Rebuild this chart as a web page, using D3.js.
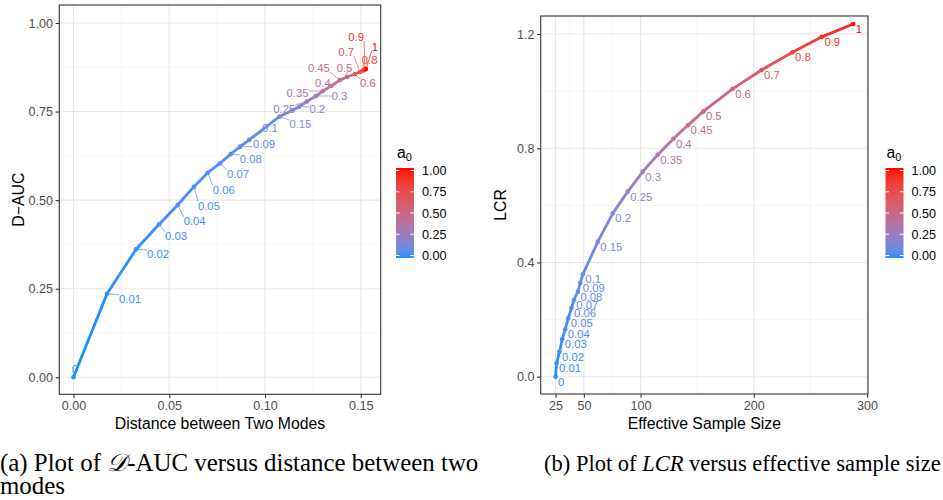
<!DOCTYPE html>
<html>
<head>
<meta charset="utf-8">
<script src="https://cdn.jsdelivr.net/npm/d3@7"></script>
<style>
  body { margin: 0; background: #fff; }
  svg { display: block; }
</style>
</head>
<body>
<svg id="chart" width="943" height="500"></svg>
<script>
// a0 values shared by both panels
const a0Values = [0, 0.01, 0.02, 0.03, 0.04, 0.05, 0.06, 0.07, 0.08, 0.09, 0.1,
  0.15, 0.2, 0.25, 0.3, 0.35, 0.4, 0.45, 0.5, 0.6, 0.7, 0.8, 0.9, 1];

// panel (a)
const distanceModes = [0, 0.0175, 0.0327, 0.0447, 0.0544, 0.0629, 0.0701, 0.0765, 0.0821, 0.0870, 0.0917,
  0.1075, 0.1178, 0.1219, 0.1266, 0.1302, 0.1345, 0.1391, 0.1428, 0.1470, 0.1496, 0.1512, 0.1522, 0.1527];
const dAuc = [0, 0.2355, 0.3613, 0.4318, 0.4863, 0.538, 0.5775, 0.604, 0.630, 0.651, 0.670,
  0.7355, 0.7637, 0.7784, 0.7939, 0.808, 0.8222, 0.839, 0.8475, 0.856, 0.8616, 0.8659, 0.8687, 0.8701];

// panel (b)
const sampleSize = [25, 25.9, 28.5, 30.9, 33.5, 36.2, 39.1, 41.1, 44.7, 46.8, 49.1,
  62.3, 75.5, 88.7, 102, 115.2, 129, 142, 155.5, 181.3, 206.8, 234.2, 260.1, 287.7];
const lcr = [0, 0.047, 0.0875, 0.132, 0.166, 0.2045, 0.2405, 0.2686, 0.2976, 0.329, 0.3585,
  0.4727, 0.572, 0.648, 0.718, 0.777, 0.833, 0.881, 0.929, 1.008, 1.074, 1.136, 1.19, 1.235];

const distTicks = [0, 0.05, 0.1, 0.15];
const aucTicks = [0, 0.25, 0.5, 0.75, 1];
const essTicks = [25, 50, 100, 200, 300];
const lcrTicks = [0, 0.4, 0.8, 1.2];
const legendTicks = [0, 0.25, 0.5, 0.75, 1];

// repel-style label nudges for panel (a), pixels from point (text start, middle)
const nudgesA = [[-1.8, -8], [12, 5], [11, 5], [6, 12], [6, 16], [4, 19], [5, 17], [7, 11], [9, 5], [13, -3], [13, -12],
  [10, 7.6], [10.3, 2.3], [-33.7, 7.5], [15.7, 0], [-36.3, 2.3], [-16, -2.7], [-32, -12.3], [-10.3, -9.3],
  [5, 9.3], [-21.7, -19.7], [-1.3, -10.5], [-16.7, -32.8], [5.7, -22.3]];

const sans = "'Liberation Sans', Arial, Helvetica, sans-serif";
const color = d3.scaleLinear().domain([0, 1]).range(['#1E90FF', '#FF0000']).interpolate(d3.interpolateLab);

const svg = d3.select('#chart');
const defs = svg.append('defs');

function midpoints(t) {
  const m = [];
  for (let i = 0; i < t.length - 1; i++) m.push((t[i] + t[i + 1]) / 2);
  return m;
}

function drawPanel(cfg) {
  const x = d3.scaleLinear().domain(cfg.xDomain).range([cfg.left, cfg.right]);
  const y = d3.scaleLinear().domain(cfg.yDomain).range([cfg.bottom, cfg.top]);
  const g = svg.append('g');

  // grid
  const grid = g.append('g');
  midpoints(cfg.xTicks).forEach((v) => grid.append('line')
    .attr('x1', x(v)).attr('x2', x(v)).attr('y1', cfg.top).attr('y2', cfg.bottom)
    .attr('stroke', '#f0f0f0').attr('stroke-width', 0.7));
  midpoints(cfg.yTicks).forEach((v) => grid.append('line')
    .attr('y1', y(v)).attr('y2', y(v)).attr('x1', cfg.left).attr('x2', cfg.right)
    .attr('stroke', '#f0f0f0').attr('stroke-width', 0.7));
  cfg.xTicks.forEach((v) => grid.append('line')
    .attr('x1', x(v)).attr('x2', x(v)).attr('y1', cfg.top).attr('y2', cfg.bottom)
    .attr('stroke', '#e8e8e8').attr('stroke-width', 1.1));
  cfg.yTicks.forEach((v) => grid.append('line')
    .attr('y1', y(v)).attr('y2', y(v)).attr('x1', cfg.left).attr('x2', cfg.right)
    .attr('stroke', '#e8e8e8').attr('stroke-width', 1.1));

  // axes
  const xAxis = g.append('g').attr('transform', `translate(0,${cfg.bottom})`)
    .call(d3.axisBottom(x).tickValues(cfg.xTicks).tickFormat(cfg.xFormat).tickSizeInner(3.7).tickSizeOuter(0).tickPadding(3));
  const yAxis = g.append('g').attr('transform', `translate(${cfg.left},0)`)
    .call(d3.axisLeft(y).tickValues(cfg.yTicks).tickFormat(cfg.yFormat).tickSizeInner(3.7).tickSizeOuter(0).tickPadding(2.5));
  [xAxis, yAxis].forEach((a) => {
    a.select('.domain').remove();
    a.selectAll('.tick line').attr('stroke', '#333333').attr('stroke-width', 1.1);
    a.selectAll('.tick text').attr('fill', '#4d4d4d').style('font-family', sans).style('font-size', '12.6px');
  });

  // path, coloured by a0 of each segment start
  const pts = cfg.xs.map((v, i) => ({ x: x(v), y: y(cfg.ys[i]), a: a0Values[i] }));
  const lines = g.append('g');
  for (let i = 0; i < pts.length - 1; i++) {
    lines.append('line')
      .attr('x1', pts[i].x).attr('y1', pts[i].y).attr('x2', pts[i + 1].x).attr('y2', pts[i + 1].y)
      .attr('stroke', color(pts[i].a)).attr('stroke-width', 2.8).attr('stroke-linecap', 'round');
  }
  g.append('g').selectAll('circle').data(pts).join('circle')
    .attr('cx', (d) => d.x).attr('cy', (d) => d.y).attr('r', 2.3)
    .attr('fill', (d) => color(d.a));

  // labels
  const lab = g.append('g');
  pts.forEach((p, i) => {
    const n = cfg.nudge(i);
    const tx = p.x + n[0], ty = p.y + n[1];
    const t = lab.append('text').attr('x', tx).attr('y', ty).attr('dy', '0.36em')
      .attr('fill', color(p.a)).style('font-family', sans).style('font-size', '11.3px')
      .text(d3.format('')(a0Values[i]));
    if (cfg.segments) {
      const w = t.node().getComputedTextLength();
      const h = 8.4;
      const nx = Math.max(tx, Math.min(p.x, tx + w));
      const ny = Math.max(ty - h / 2, Math.min(p.y, ty + h / 2));
      const dist = Math.hypot(nx - p.x, ny - p.y);
      if (dist > 5) {
        lab.append('line').attr('x1', p.x).attr('y1', p.y).attr('x2', nx).attr('y2', ny)
          .attr('stroke', color(p.a)).attr('stroke-width', 0.7);
      }
    }
  });

  // border
  g.append('rect').attr('x', cfg.left).attr('y', cfg.top)
    .attr('width', cfg.right - cfg.left).attr('height', cfg.bottom - cfg.top)
    .attr('fill', 'none').attr('stroke', '#333333').attr('stroke-width', 1.1);

  // titles
  g.append('text').attr('x', (cfg.left + cfg.right) / 2).attr('y', 428.5)
    .attr('text-anchor', 'middle').attr('fill', '#000')
    .style('font-family', sans).style('font-size', '15.8px').text(cfg.xTitle);
  g.append('text').attr('transform', `translate(${cfg.yTitleX},${(cfg.top + cfg.bottom) / 2}) rotate(-90)`)
    .attr('text-anchor', 'middle').attr('dy', '0.36em').attr('fill', '#000')
    .style('font-family', sans).style('font-size', '15.8px').text(cfg.yTitle);

  drawLegend(cfg.legendX, cfg.id);
}

function drawLegend(lx, id) {
  const top = 168, bottom = 258, w = 18;
  const s = d3.scaleLinear().domain([0, 1]).range([bottom - 2.5, top + 2.5]);
  const grad = defs.append('linearGradient').attr('id', 'grad' + id)
    .attr('x1', 0).attr('y1', 1).attr('x2', 0).attr('y2', 0);
  d3.range(0, 1.0001, 0.05).forEach((v) => grad.append('stop')
    .attr('offset', v).attr('stop-color', color(v)));
  const g = svg.append('g');
  const title = g.append('text').attr('x', lx + 1).attr('y', 157.5).attr('fill', '#000')
    .style('font-family', sans).style('font-size', '15.8px');
  title.append('tspan').text('a');
  title.append('tspan').attr('dy', 3.5).style('font-size', '11px').text('0');
  g.append('rect').attr('x', lx).attr('y', top).attr('width', w).attr('height', bottom - top)
    .attr('fill', `url(#grad${id})`);
  legendTicks.forEach((v) => {
    g.append('line').attr('x1', lx).attr('x2', lx + 3.6).attr('y1', s(v)).attr('y2', s(v))
      .attr('stroke', '#fff').attr('stroke-width', 1);
    g.append('line').attr('x1', lx + w - 3.6).attr('x2', lx + w).attr('y1', s(v)).attr('y2', s(v))
      .attr('stroke', '#fff').attr('stroke-width', 1);
    g.append('text').attr('x', lx + w + 8).attr('y', s(v)).attr('dy', '0.36em')
      .attr('fill', '#000').style('font-family', sans).style('font-size', '12.6px')
      .text(d3.format('.2f')(v));
  });
}

drawPanel({
  id: 'a', xs: distanceModes, ys: dAuc,
  left: 59.3, right: 380.7, top: 5, bottom: 394.3,
  xDomain: [-0.0074, 0.1604], yDomain: [-0.048, 1.0508],
  xTicks: distTicks, yTicks: aucTicks,
  xFormat: d3.format('.2f'), yFormat: d3.format('.2f'),
  xTitle: 'Distance between Two Modes', yTitle: 'D\u2212AUC', yTitleX: 18,
  nudge: (i) => nudgesA[i], segments: true, legendX: 396
});

drawPanel({
  id: 'b', xs: sampleSize, ys: lcr,
  left: 540.7, right: 868, top: 16, bottom: 394,
  xDomain: [11.87, 300.8], yDomain: [-0.0606, 1.263],
  xTicks: essTicks, yTicks: lcrTicks,
  xFormat: d3.format('d'), yFormat: d3.format('.1f'),
  xTitle: 'Effective Sample Size', yTitle: 'LCR', yTitleX: 500,
  nudge: () => [2.5, 5], segments: false, legendX: 885.5
});

// captions
const serif = "'Liberation Serif', 'Times New Roman', serif";
const cap = svg.append('g').attr('fill', '#000').style('font-family', serif).style('font-size', '18px');
const capA = cap.append('text').attr('x', 0).attr('y', 470.5);
capA.append('tspan').text('(a) Plot of ');
capA.append('tspan').style('font-style', 'italic').text('\uD835\uDC9F');
capA.append('tspan').text('-AUC versus distance between two');
const capA2 = cap.append('text').attr('x', 0).attr('y', 494).text('modes');
const capB = cap.append('text').attr('x', 544).attr('y', 470.5);
capB.append('tspan').text('(b) Plot of ');
capB.append('tspan').style('font-style', 'italic').text('LCR');
capB.append('tspan').text(' versus effective sample size');

// fit each caption line to the width it takes in the figure
function fitWidth(sel, target) {
  const w = sel.node().getComputedTextLength();
  return 18 * target / w;
}
const fsA = fitWidth(capA, 478);
const fsB = fitWidth(capB, 397);
capA.style('font-size', fsA + 'px');
capA2.style('font-size', fsA + 'px');
capB.style('font-size', fsB + 'px');
</script>
</body>
</html>
